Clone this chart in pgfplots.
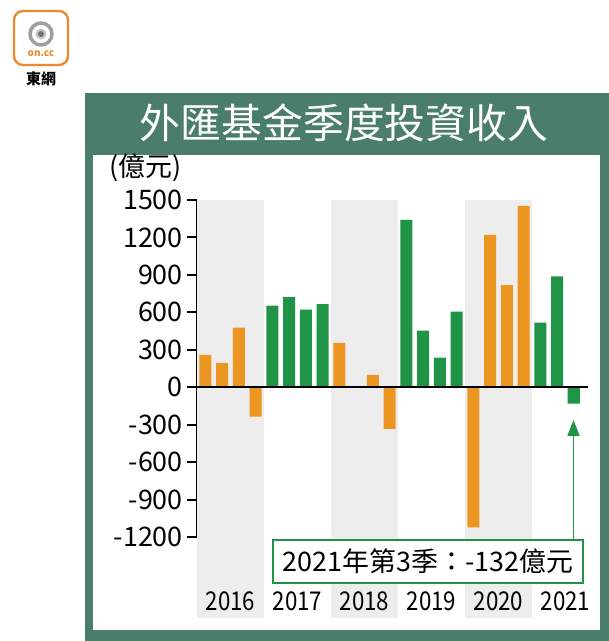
\documentclass[border=0pt]{standalone}
\usepackage{pgfplots}
\pgfplotsset{compat=1.18}
\usepackage{fontspec}
\setmainfont{Noto Sans CJK TC}
\usetikzlibrary{arrows.meta}

\definecolor{frame}{HTML}{4A7E6B}
\definecolor{barorange}{HTML}{EA9620}
\definecolor{bargreen}{HTML}{1F9446}
\definecolor{band}{HTML}{EDEDED}
\definecolor{logoorange}{HTML}{EE8A2E}

% quarters 2016Q1 = 0 ... 2021Q3 = 22
\pgfplotstableread{
x y
0 259
1 195
2 478
3 -235
8 355
10 99
11 -334
16 -1123
17 1220
18 817
19 1452
}\orangedata
\pgfplotstableread{
x y
4 654
5 721
6 622
7 665
12 1340
13 454
14 238
15 606
20 518
21 889
22 -132
}\greendata

\begin{document}
\begin{tikzpicture}
\fill[white] (0,0) rectangle (609bp,641bp);
% logo
\draw[logoorange, line width=2.4bp, rounded corners=9bp] (14bp,576bp) rectangle (68bp,630bp);
\draw[gray!75, line width=3.5bp] (41bp,607bp) circle (11bp);
\fill[gray!45] (41bp,607bp) circle (5.5bp);
\fill[gray!90!black] (41bp,607bp) circle (3bp);
\node[logoorange, font=\fontsize{10}{10}\selectfont\bfseries] at (41bp,587bp) {on.cc};
\node[font=\fontsize{15}{15}\selectfont\bfseries] at (41bp,562bp) {東網};
% frame
\fill[frame] (85bp,0) rectangle (609bp,548bp);
\fill[white] (93bp,11bp) rectangle (600bp,486bp);
\node[white, font=\fontsize{41}{41}\selectfont] at (344bp,518bp) {外匯基金季度投資收入};
\node[font=\fontsize{27}{27}\selectfont, anchor=west] at (106bp,473bp) {(億元)};

\begin{axis}[
  at={(197bp,104bp)}, anchor=south west,
  scale only axis, width=391bp, height=337bp,
  xmin=-0.5, xmax=22.85, ymin=-1200, ymax=1500,
  clip=false,
  hide x axis, axis y line*=left,
  y axis line style={line width=2.2bp, -},
  ytick={-1200,-900,-600,-300,0,300,600,900,1200,1500},
  yticklabels={-1200,-900,-600,-300,0,300,600,900,1200,1500},
  tick align=outside, major tick length=10bp,
  major tick style={line width=2bp, black},
  yticklabel style={font=\fontsize{27}{27}\selectfont, inner sep=1bp, xshift=-3bp},
  ybar, bar width=0.72, bar shift=0pt,
]
\fill[band] (axis cs:-0.5,1500) rectangle (axis cs:3.5,-1852);
\fill[band] (axis cs:7.5,1500) rectangle (axis cs:11.5,-1852);
\fill[band] (axis cs:15.5,1500) rectangle (axis cs:19.5,-1852);
\addplot[fill=barorange, draw=none] table[x=x,y=y] {\orangedata};
\addplot[fill=bargreen, draw=none] table[x=x,y=y] {\greendata};
\draw[line width=2.2bp] (axis cs:-0.5,0) -- (axis cs:22.85,0);
\node[font=\fontsize{26}{26}\selectfont] at (axis cs:1.5,-1716) {\scalebox{0.86}[1]{2016}};
\node[font=\fontsize{26}{26}\selectfont] at (axis cs:5.5,-1716) {\scalebox{0.86}[1]{2017}};
\node[font=\fontsize{26}{26}\selectfont] at (axis cs:9.5,-1716) {\scalebox{0.86}[1]{2018}};
\node[font=\fontsize{26}{26}\selectfont] at (axis cs:13.5,-1716) {\scalebox{0.86}[1]{2019}};
\node[font=\fontsize{26}{26}\selectfont] at (axis cs:17.5,-1716) {\scalebox{0.86}[1]{2020}};
\node[font=\fontsize{26}{26}\selectfont] at (axis cs:21.5,-1716) {\scalebox{0.86}[1]{2021}};
\end{axis}

% annotation
\draw[bargreen, line width=1.6bp, -{Triangle[length=16bp,width=12bp]}] (573.5bp,101bp) -- (573.5bp,221bp);
\draw[bargreen, line width=2.2bp, fill=white] (273bp,58bp) rectangle (583bp,101bp);
\node[font=\fontsize{27}{27}\selectfont] at (428bp,79.5bp) {2021年第3季：-132億元};
\end{tikzpicture}
\end{document}
